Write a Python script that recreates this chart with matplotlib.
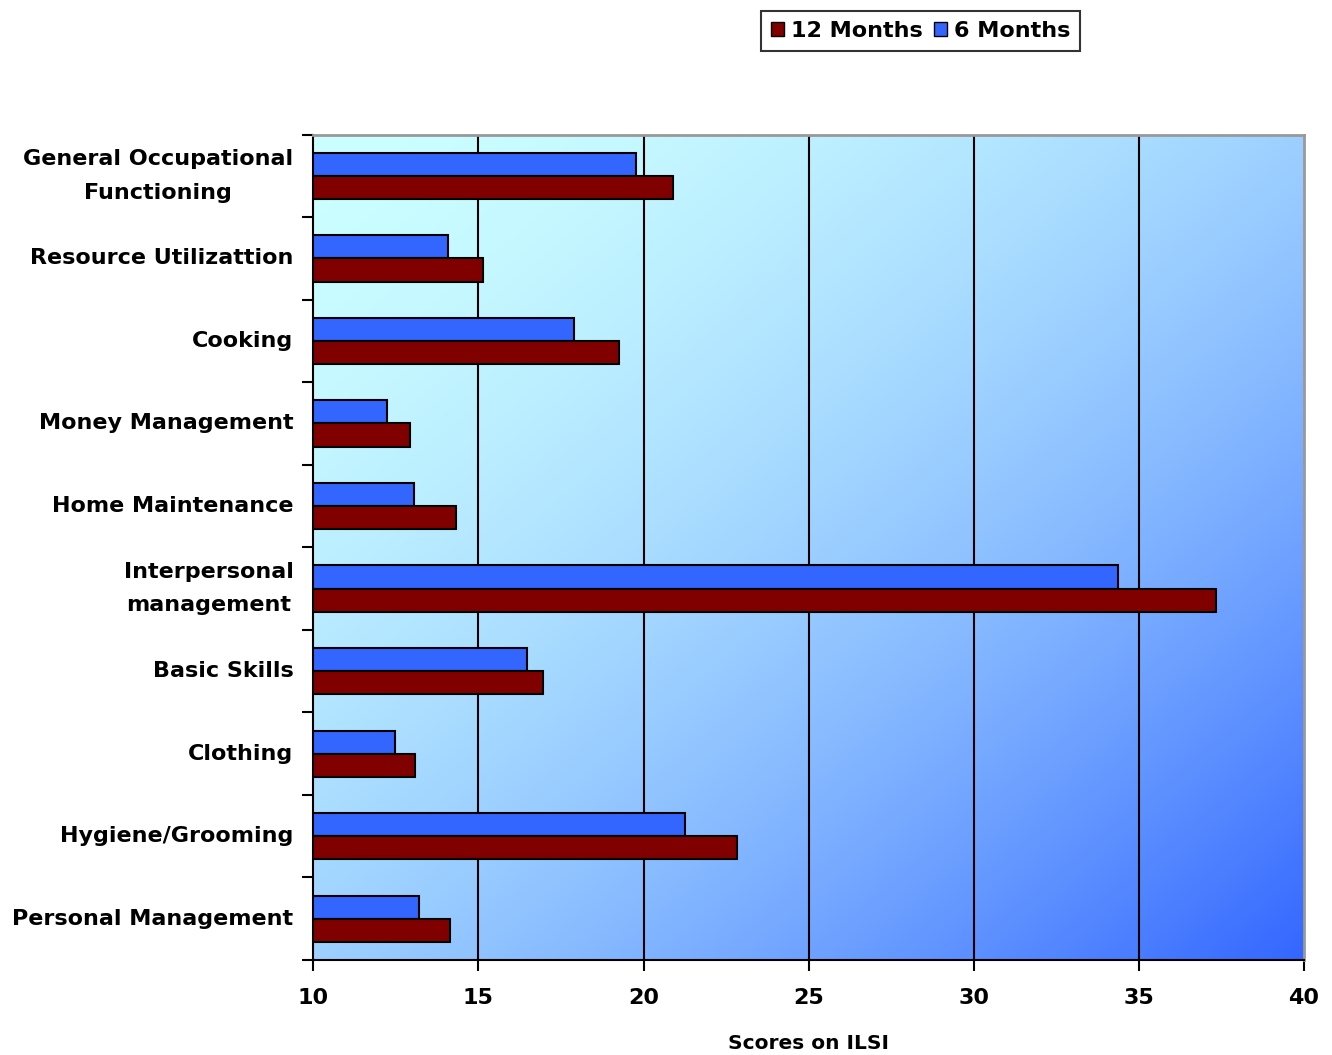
import numpy as np
import matplotlib
matplotlib.use("Agg")
import matplotlib.pyplot as plt
from matplotlib.patches import Patch

plt.rcParams['font.family'] = ['DejaVu Sans']

categories = [
    "General Occupational\nFunctioning",
    "Resource Utilizattion",
    "Cooking",
    "Money Management",
    "Home Maintenance",
    "Interpersonal\nmanagement",
    "Basic Skills",
    "Clothing",
    "Hygiene/Grooming",
    "Personal Management",
]
months_6 = [19.77, 14.07, 17.88, 12.24, 13.04, 34.36, 16.48, 12.48, 21.26, 13.21]
months_12 = [20.90, 15.15, 19.27, 12.92, 14.31, 37.35, 16.96, 13.09, 22.84, 14.14]
x_ticks = [10, 15, 20, 25, 30, 35, 40]

fig = plt.figure(figsize=(13.32, 10.55), dpi=100)
ax = fig.add_axes([313.3 / 1332, 95 / 1055, 990.7 / 1332, 825.4 / 1055])

n_cat = len(categories)
pos = np.arange(n_cat)

# diagonal gradient background: light cyan top-left to blue bottom-right
c0 = np.array([204, 255, 255]) / 255.0
c1 = np.array([51, 102, 255]) / 255.0
n = 500
u, v = np.meshgrid(np.linspace(0, 1, n), np.linspace(0, 1, n))
t = ((u + v) / 2) ** 1.7          # row 0 = top of the plot area
rgb = c0[None, None, :] + (c1 - c0)[None, None, :] * t[..., None]
ax.imshow(rgb, extent=[10, 40, n_cat - 0.5, -0.5], origin='upper',
          aspect='auto', zorder=0, interpolation='bilinear')

bh = 0.28
ax.barh(pos - bh / 2, [v - 10 for v in months_6], left=10, height=bh,
        color="#3366FF", edgecolor="black", linewidth=1.5, zorder=3)
ax.barh(pos + bh / 2, [v - 10 for v in months_12], left=10, height=bh,
        color="#800000", edgecolor="black", linewidth=1.5, zorder=3)

ax.set_xlim(10, 40)
ax.set_ylim(n_cat - 0.5, -0.5)
ax.set_xticks(x_ticks)
ax.set_xticklabels([str(t) for t in x_ticks], fontsize=16, fontweight='bold')
ax.set_yticks(np.arange(-0.5, n_cat, 1.0))
ax.set_yticklabels([])
ax.tick_params(axis='y', length=8, width=1.5, direction='out')
ax.tick_params(axis='x', length=8, width=1.5, direction='out', pad=12)

for i, c in enumerate(categories):
    ax.text(-0.02, pos[i], c, transform=ax.get_yaxis_transform(),
            ha='right', va='center', fontsize=16, fontweight='bold',
            multialignment='center', linespacing=1.85)

for xv in x_ticks[1:-1]:
    ax.axvline(xv, color='black', linewidth=1.5, zorder=2)

for s in ['left', 'bottom']:
    ax.spines[s].set_color('black')
    ax.spines[s].set_linewidth(1.5)
for s in ['top', 'right']:
    ax.spines[s].set_color('#999999')
    ax.spines[s].set_linewidth(2)

ax.set_xlabel("Scores on ILSI", fontsize=14.5, fontweight='bold', labelpad=19)

handles = [Patch(facecolor="#800000", edgecolor="black", label="12 Months"),
           Patch(facecolor="#3366FF", edgecolor="black", label="6 Months")]
leg = fig.legend(handles=handles, loc='center', bbox_to_anchor=(920.5 / 1332, 1 - 31 / 1055),
                 ncol=2, frameon=True, fancybox=False, edgecolor='black',
                 prop={'size': 16, 'weight': 'bold'}, handlelength=0.6, handleheight=0.6,
                 handletextpad=0.3, columnspacing=0.5, borderpad=0.45)
leg.get_frame().set_linewidth(1.5)

fig.savefig("out.png", dpi=100)
